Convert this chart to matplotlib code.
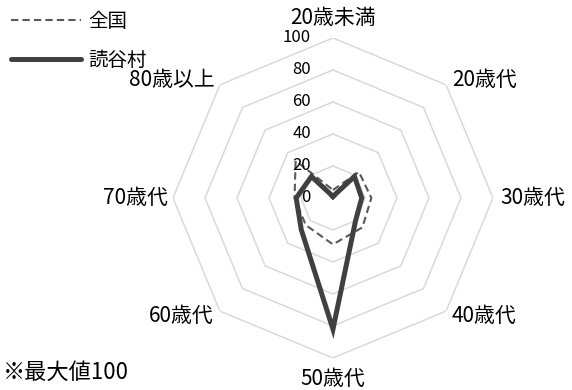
import numpy as np
import matplotlib.pyplot as plt
from matplotlib.lines import Line2D

plt.rcParams['font.family'] = ['Noto Sans CJK JP', 'DejaVu Sans']

categories = ['20歳未満', '20歳代', '30歳代', '40歳代', '50歳代', '60歳代', '70歳代', '80歳以上']
zenkoku = [5, 23, 24, 26, 29, 24, 24, 33]
yomitan = [1, 19, 18, 20, 82, 28, 23, 19]
levels = [0, 20, 40, 60, 80, 100]

n = len(categories)
theta = np.linspace(0, 2 * np.pi, n, endpoint=False)
theta_c = np.append(theta, theta[0])

fig = plt.figure(figsize=(5.72, 3.9), dpi=100)
ax = fig.add_axes([0.3024, 0.0821, 0.5594, 0.8205], projection='polar')
ax.set_theta_zero_location('N')
ax.set_theta_direction(-1)
ax.set_ylim(0, 100)
ax.set_xticks([])
ax.set_yticks([])
ax.grid(False)
ax.spines['polar'].set_visible(False)
ax.patch.set_visible(False)

# octagon grid
for lv in levels[1:]:
    ax.plot(theta_c, [lv] * (n + 1), color='#d9d9d9', lw=1.1, zorder=1)

ax.plot(theta_c, zenkoku + zenkoku[:1], color='#595959', lw=1.5,
        linestyle=(0, (3.5, 2)), zorder=2)
ax.plot(theta_c, yomitan + yomitan[:1], color='#404040', lw=3.6,
        solid_joinstyle='miter', zorder=3)

# radial labels
for lv in levels:
    ax.annotate(str(lv), (0, lv), xytext=(-22, 0), textcoords='offset pixels',
                ha='right', va='center', fontsize=12, zorder=5)

# category labels
offs = [(0, 20, 'center'), (6, 5, 'left'), (7, 0, 'left'), (6, -5, 'left'),
        (0, -21, 'center'), (-6, -5, 'right'), (-5, 0, 'right'), (-5, 5, 'right')]
for t, lab, (dx, dy, ha) in zip(theta, categories, offs):
    ax.annotate(lab, (t, 100), xytext=(dx, dy), textcoords='offset pixels',
                ha=ha, va='center', fontsize=15, annotation_clip=False)

handles = [Line2D([], [], color='#595959', lw=1.5, linestyle=(0, (3.5, 2))),
           Line2D([], [], color='#404040', lw=3.6, solid_capstyle='round')]
fig.legend(handles, ['全国', '読谷村'], loc='upper left',
           bbox_to_anchor=(11 / 572, 1 - 11 / 390),
           frameon=False, fontsize=14, handlelength=3.6, handletextpad=0.35,
           labelspacing=0.9, borderaxespad=0.0, borderpad=0.0)

fig.text(0.005, 1 - 372 / 390, '※最大値100', fontsize=16, ha='left', va='center')

fig.savefig('out.png', dpi=100)
